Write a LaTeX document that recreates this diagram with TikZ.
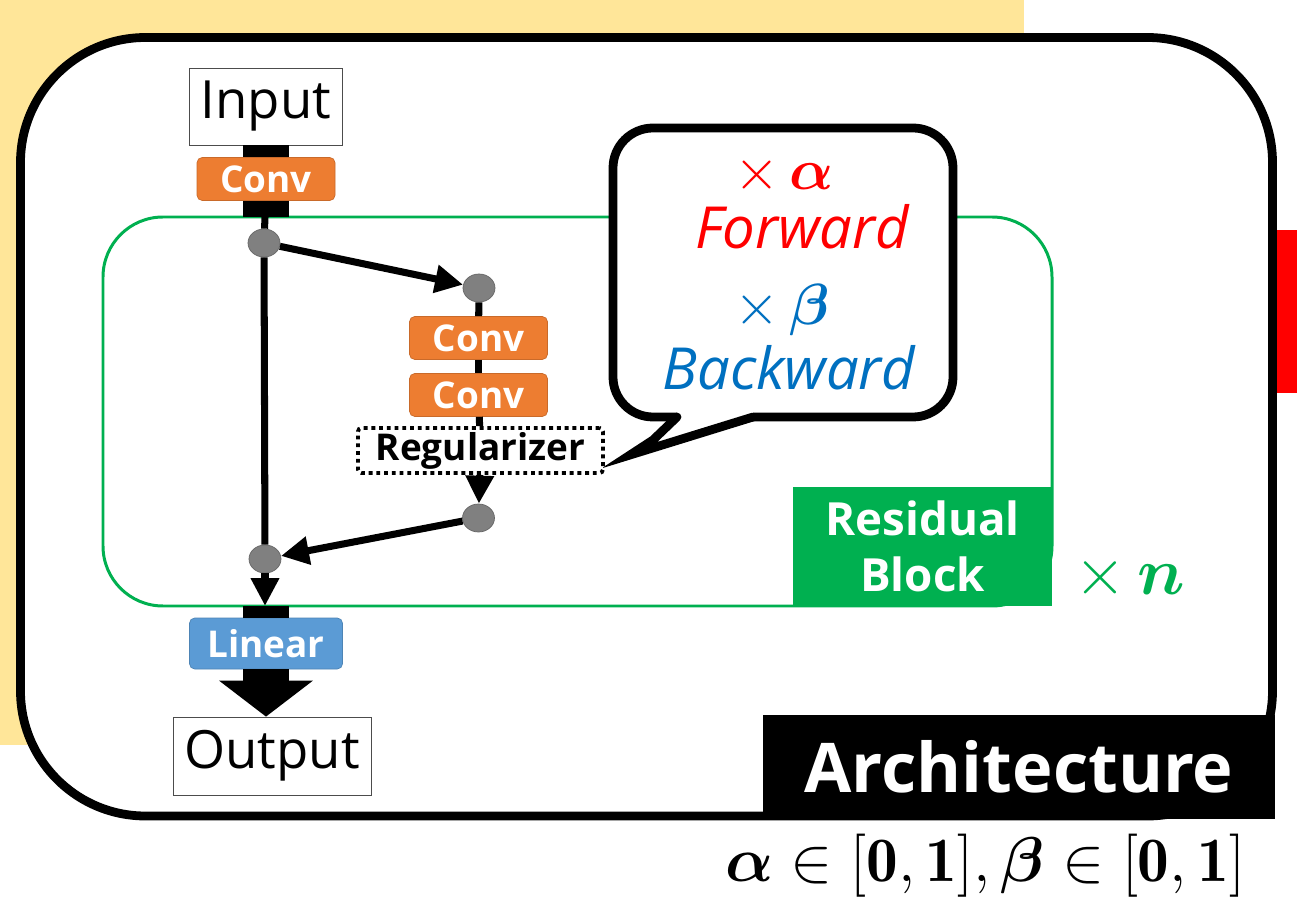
\RequirePackage{fix-cm}
\documentclass[tikz,border=0pt]{standalone}
\usepackage{amsmath}
\usepackage{fontspec}
\setsansfont{Open Sans}
\usetikzlibrary{shapes.geometric,arrows.meta,positioning}
\definecolor{bgyel}{RGB}{255,230,153}
\definecolor{convor}{RGB}{237,125,49}
\definecolor{linbl}{RGB}{91,155,213}
\definecolor{resgr}{RGB}{0,176,80}
\definecolor{bwdbl}{RGB}{0,112,192}
\definecolor{dotgr}{RGB}{128,128,128}
\tikzset{
  io/.style={draw=black!70,fill=white,font=\sffamily\fontsize{30}{36}\selectfont,inner sep=0pt},
  lay/.style={rounded corners=3pt,text=white,font=\sffamily\bfseries\fontsize{21}{24}\selectfont,minimum width=2.76cm,minimum height=0.86cm,inner sep=0pt},
  conv/.style={lay,fill=convor,draw=convor!85!black},
  lin/.style={lay,fill=linbl,draw=linbl!85!black,minimum width=3.06cm,minimum height=1.02cm},
  reg/.style={draw,fill=white,line width=2.2pt,dash pattern=on 2.2pt off 2.2pt,rounded corners=2pt,font=\sffamily\bfseries\fontsize{21}{24}\selectfont,minimum width=4.9cm,minimum height=0.9cm,inner sep=0pt},
  dot/.style={ellipse,fill=dotgr,draw=dotgr!80!black,minimum width=0.64cm,minimum height=0.56cm,inner sep=0pt},
  ln/.style={line width=4pt},
  arr/.style={line width=4pt,-{Triangle[length=0.56cm,width=0.54cm]}},
  bar/.style={line width=0.92cm},
  big/.style={line width=0.92cm,-{Triangle[length=0.72cm,width=1.84cm]}}
}

\begin{document}
\begin{tikzpicture}[bub/.style={font=\sffamily\fontsize{33}{38}\selectfont},
 resbox/.style={fill=resgr,text=white,align=center,font=\sffamily\bfseries\fontsize{26}{30}\selectfont,minimum width=5.18cm,minimum height=2.38cm,inner sep=0pt}]
\useasboundingbox (0,0) rectangle (25.94,18);
\fill[white] (0,0) rectangle (25.94,18);
\fill[bgyel] (0,3.1) rectangle (20.48,18);
\fill[red] (25.54,10.14) rectangle (25.94,13.4);
\draw[line width=5pt,fill=white,rounded corners=2.5cm] (0.41,1.68) rectangle (25.45,17.25);
\draw[resgr,line width=1.7pt,rounded corners=1.2cm] (2.06,5.88) rectangle (21.04,13.66);
\node[resbox] (rb) at (18.45,7.07) {Residual\\[2pt]Block};
\node[text=resgr,font=\fontsize{38}{42}\selectfont] (xn) at (22.6,6.44) {$\times\,\boldsymbol{n}$};
\draw[line width=5pt,fill=white,rounded corners=0.8cm] (12.26,9.66) rectangle (19.06,15.44);
\fill[white] (13.54,9.78) -- (13.54,9.66) -- (13.06,9.2) -- (12.6,8.9) -- (15.06,9.66) -- (15.06,9.78) -- cycle;
\draw[line width=5pt,line cap=round] (13.54,9.66) -- (13.06,9.2) -- (12.6,8.9) -- (15.06,9.66);
\node[bub,text=red] (xa) at (15.68,14.5) {$\times\,\boldsymbol{\alpha}$};
\node[bub,text=red] (fw) at (16.04,13.46) {\itshape Forward};
\node[bub,text=bwdbl] (xb) at (15.64,11.8) {$\times\,\boldsymbol{\beta}$};
\node[bub,text=bwdbl] (bw) at (15.78,10.64) {\itshape Backward};
\node[io,minimum width=3.06cm,minimum height=1.54cm] (inp) at (5.32,15.87) {Input};
\node[conv] (c0) at (5.32,14.42) {Conv};
\coordinate (gtop) at (5.3,13.66);
\node[dot] (n1) at (5.28,13.14) {};
\node[dot] (n2) at (9.58,12.24) {};
\node[conv] (c1) at (9.57,11.24) {Conv};
\node[conv] (c2) at (9.57,10.1) {Conv};
\node[reg] (reg) at (9.61,8.99) {Regularizer};
\node[dot] (n3) at (9.57,7.64) {};
\node[dot] (n4) at (5.3,6.82) {};
\coordinate (gbot) at (5.3,5.88);
\node[lin] (lin) at (5.32,5.13) {Linear};
\node[io,minimum width=3.96cm,minimum height=1.56cm] (out) at (5.44,2.88) {Output};
\draw[bar] (inp.south) -- (c0.north);
\draw[bar] (c0.south) -- (c0.south |- gtop);
\draw[bar] (lin.north |- gbot) -- (lin.north);
\draw[ln] (gtop) -- (n1);
\draw[arr] (n1) -- (n2);
\draw[ln] (n2) -- (c1);
\draw[ln] (c1) -- (c2);
\draw[ln] (c2) -- (reg);
\draw[arr] (reg) -- (n3);
\draw[arr] (n3) -- (n4);
\draw[ln] (n1) -- (n4);
\draw[arr] (n4) -- (gbot);
\draw[big] (lin.south) -- (lin.south |- out.north);
\node[fill=black,text=white,font=\sffamily\bfseries\fontsize{39}{44}\selectfont,minimum width=10.24cm,minimum height=2.08cm,inner sep=0pt] (arch) at (20.38,2.66) {Architecture};
\node[font=\fontsize{36}{40}\selectfont] (rng) at (19.7,0.68) {$\boldsymbol{\alpha}\in[\mathbf{0},\mathbf{1}],\boldsymbol{\beta}\in[\mathbf{0},\mathbf{1}]$};
\end{tikzpicture}
\end{document}
